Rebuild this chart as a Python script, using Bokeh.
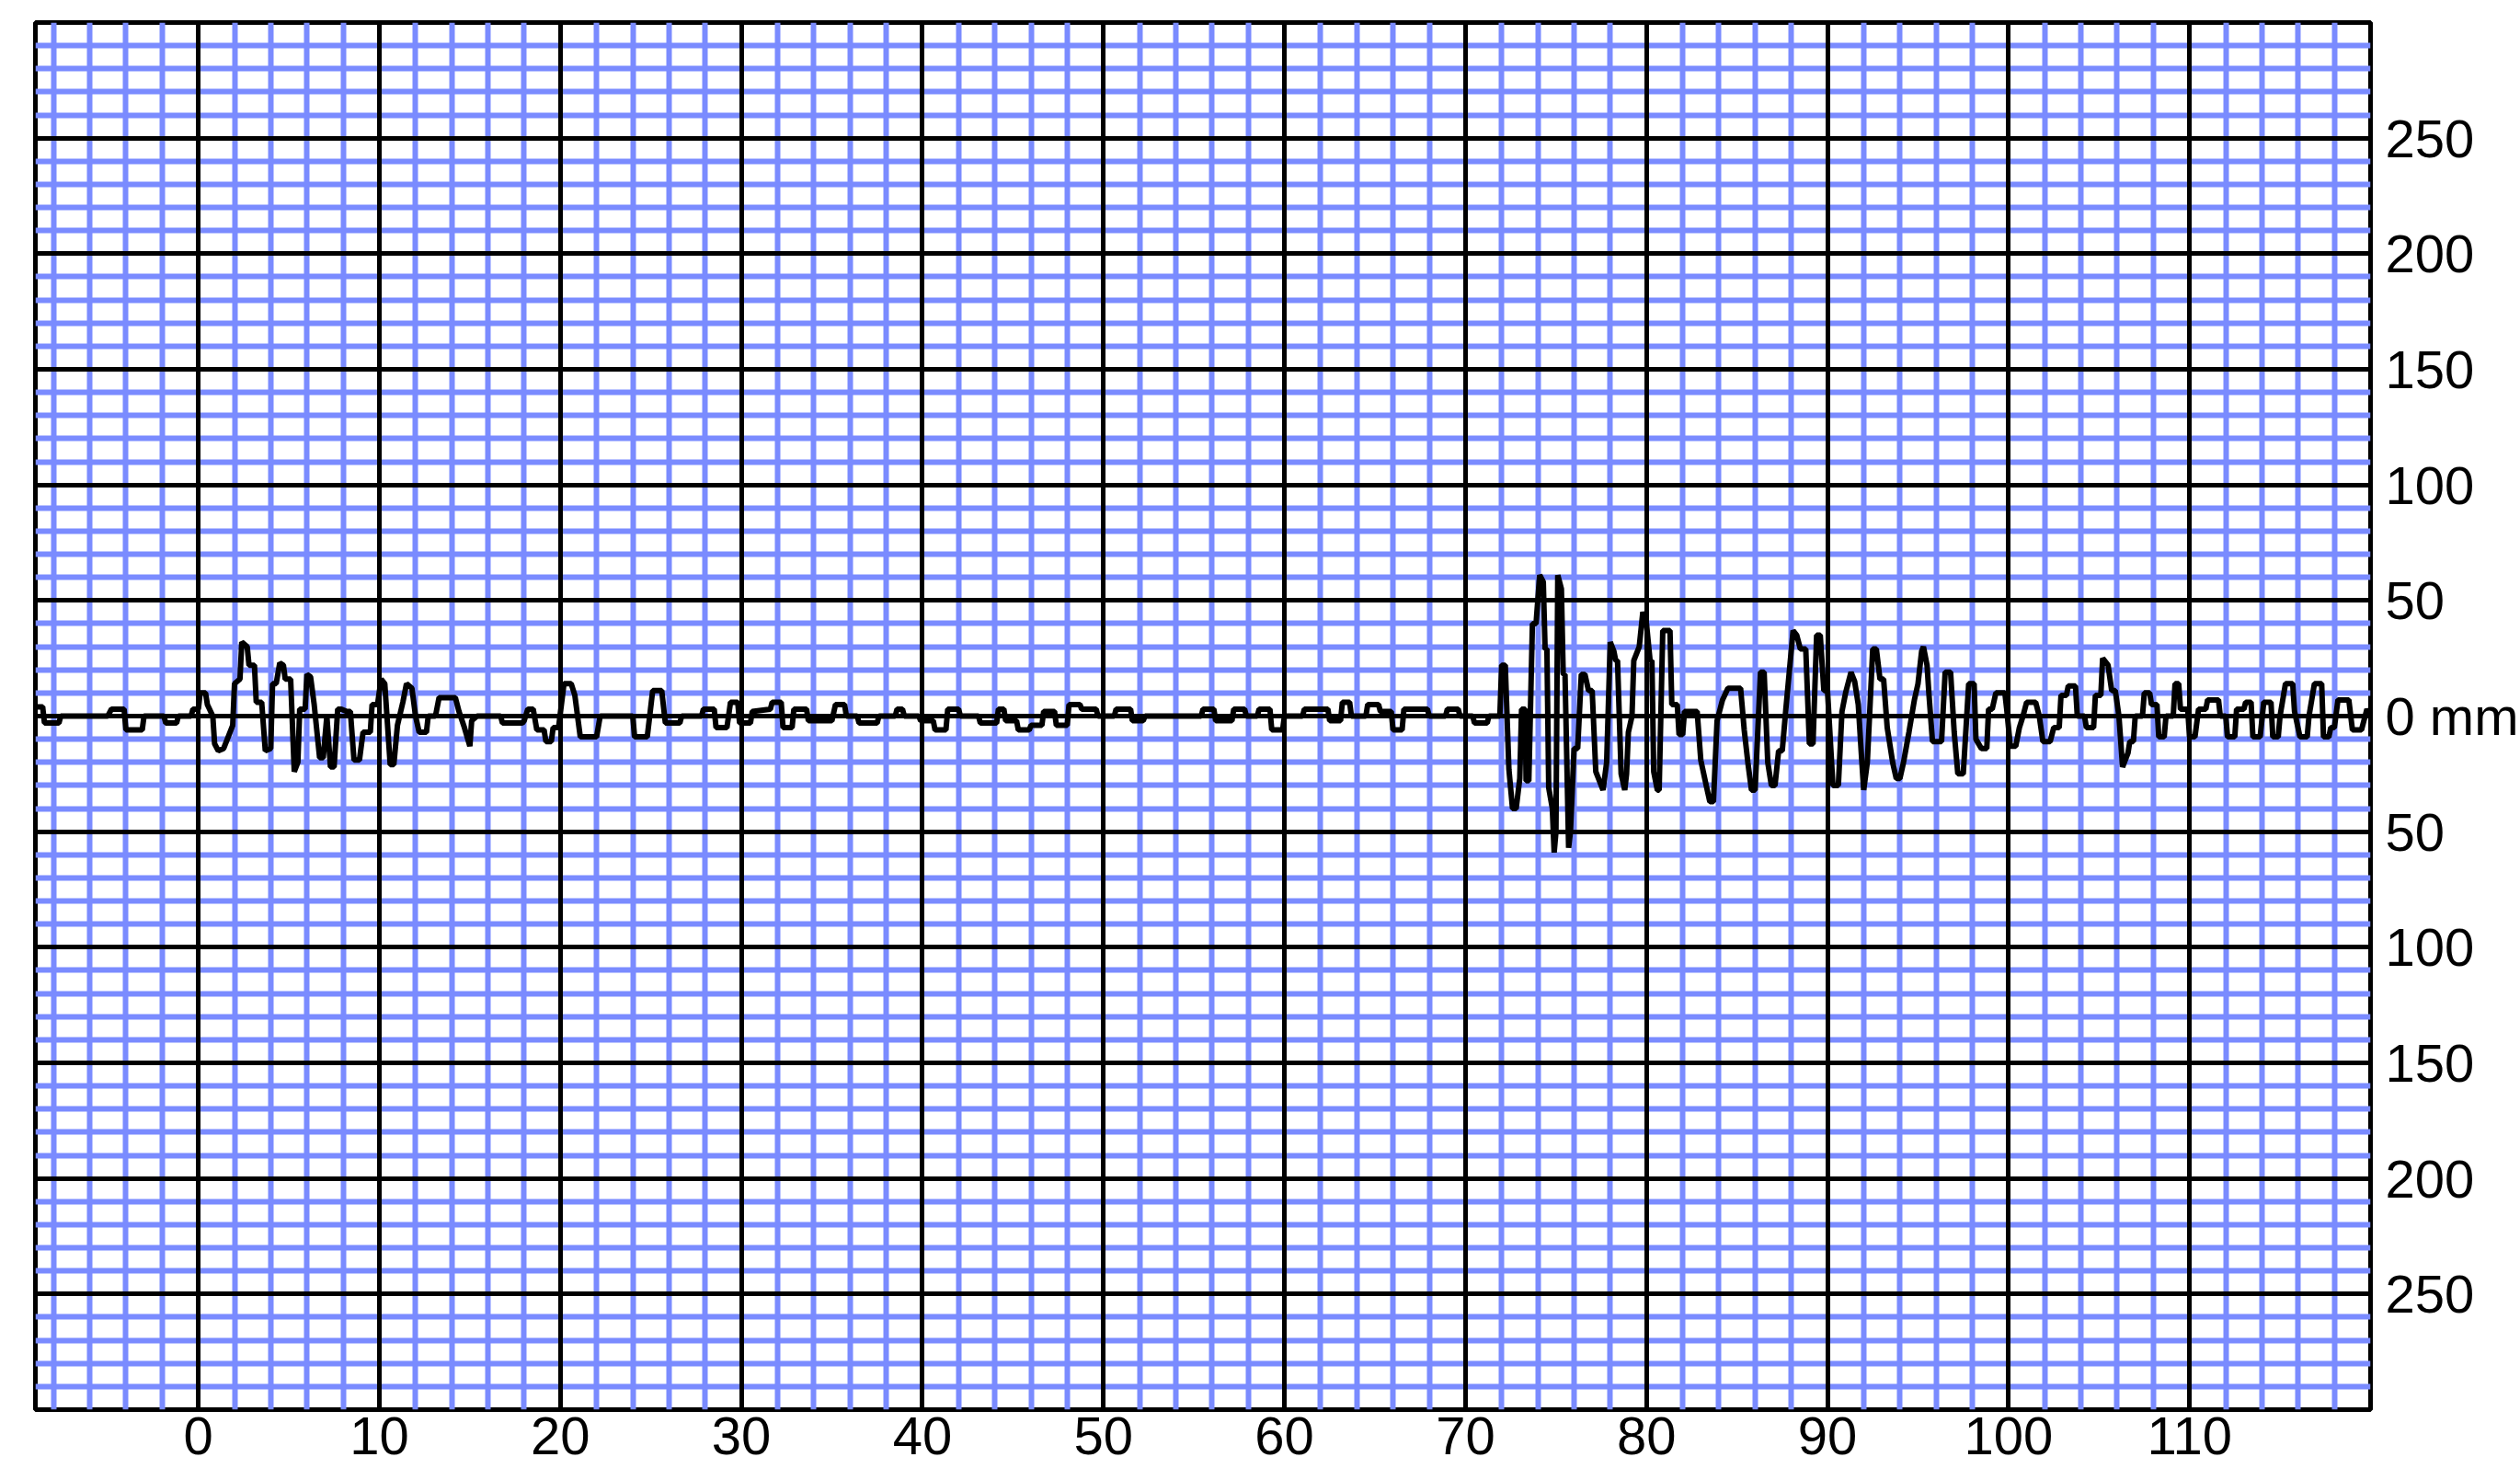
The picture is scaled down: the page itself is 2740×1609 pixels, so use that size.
from bokeh.plotting import figure
from bokeh.models import Range1d, FixedTicker, Grid
from bokeh.embed import file_html
from bokeh.resources import INLINE

# --- data (time in s, amplitude in mm) ---
time_s = [
    -9.0, -8.6, -8.5, -7.7, -7.6, -5.0, -4.8, -4.1, -4.0, -3.1, -3.0, -1.9, -1.8, -1.2, -1.1, -0.4, -0.3, 0.0,
    0.1, 0.4, 0.5, 0.8, 0.9, 1.1, 1.4, 1.6, 1.9, 2.0, 2.3, 2.4, 2.7, 2.8, 3.1, 3.2, 3.5, 3.7, 4.0, 4.1, 4.3,
    4.5, 4.7, 4.8, 5.1, 5.3, 5.5, 5.6, 5.9, 6.0, 6.2, 6.4, 6.7, 6.9, 7.1, 7.3, 7.5, 7.7, 7.9, 8.2, 8.4, 8.6,
    8.9, 9.1, 9.5, 9.6, 9.9, 10.1, 10.3, 10.6, 10.8, 11.0, 11.3, 11.5, 11.8, 12.0, 12.2, 12.6, 12.7, 13.1,
    13.3, 14.2, 14.4, 14.7, 15.0, 15.1, 15.4, 16.7, 16.8, 17.9,
    18.0, 18.2, 18.5, 18.7, 19.1, 19.2, 19.5, 19.6, 19.9, 20.2, 20.6, 20.8, 21.1, 22.0, 22.2, 24.0, 24.1,
    24.8, 25.1, 25.6, 25.8, 26.6, 26.7, 27.8, 27.9, 28.5, 28.6, 29.2, 29.4, 29.8, 29.9, 30.5, 30.6, 31.6,
    31.7, 32.2, 32.3, 32.8, 32.9, 33.6, 33.7, 35.0, 35.2, 35.7, 35.8, 36.4, 36.5, 37.5, 37.6, 38.5, 38.6,
    38.9, 39.0, 39.8, 39.9, 40.6, 40.7, 41.3, 41.4, 42.0, 42.1, 43.1, 43.2, 44.1, 44.2, 44.5, 44.6, 45.2,
    45.3, 45.9, 46.0, 46.6, 46.7, 47.3, 47.4, 48.0, 48.1, 48.7, 48.8, 49.6, 49.7, 50.6, 50.7, 51.5, 51.6,
    52.2, 52.3, 55.4, 55.5, 56.1, 56.2, 57.1, 57.2, 57.8, 57.9, 58.5, 58.6, 59.2, 59.3, 59.9, 60.0, 61.0,
    61.1, 62.4, 62.5, 63.1, 63.2, 63.6, 63.7, 64.5, 64.6, 65.2, 65.3, 65.9, 66.0, 66.5, 66.6, 67.9, 68.0,
    68.9, 69.0, 69.6, 69.7, 70.4, 70.5, 71.2,
    71.3, 71.9, 72.0, 72.2, 72.4, 72.6, 72.8, 73.0, 73.1, 73.3, 73.35, 73.5, 73.7, 73.9, 74.1, 74.3, 74.4,
    74.5, 74.6, 74.8, 74.9, 75.0, 75.1, 75.3, 75.4, 75.5, 75.7, 75.8, 76.0, 76.2, 76.4, 76.6, 76.8, 77.0,
    77.2, 77.4, 77.6, 77.8, 78.0, 78.2, 78.3, 78.4, 78.6, 78.8, 78.9, 79.0, 79.2, 79.3, 79.6, 79.8, 80.0,
    80.2, 80.3, 80.4, 80.6, 80.7, 80.9, 81.3, 81.4, 81.7, 81.8, 82.0, 82.1, 82.8, 83.0, 83.3, 83.5, 83.7,
    83.9, 84.2, 84.5, 85.2, 85.4, 85.6, 85.8, 86.0, 86.3, 86.5, 86.7, 86.9, 87.1, 87.3, 87.5, 87.7, 87.9,
    88.1, 88.3, 88.5, 88.8, 89.0, 89.2, 89.4, 89.6, 89.8, 90.0, 90.3, 90.6, 90.8, 91.0, 91.3, 91.5, 91.7,
    91.9, 92.0, 92.2, 92.5, 92.7, 92.9, 93.1, 93.3, 93.6, 93.8, 94.0, 94.2, 94.5, 94.8, 95.0, 95.2, 95.3,
    95.5, 95.6, 95.8, 96.3, 96.5, 96.8, 97.0, 97.2, 97.5, 97.8, 98.1, 98.2, 98.5, 98.8, 98.9, 99.1, 99.3,
    99.8, 99.9, 100.1, 100.4, 100.6, 100.8, 101.0, 101.5, 101.7, 101.9, 102.3, 102.5, 102.8, 102.9, 103.2,
    103.3, 103.7, 103.8, 104.2, 104.3, 104.7, 104.8, 105.1, 105.2, 105.5, 105.7, 105.9, 106.1, 106.3,
    106.6, 106.7, 106.9, 107.0, 107.4, 107.5, 107.8, 107.9, 108.2, 108.3, 108.6, 108.7, 109.1, 109.2,
    109.4, 109.5, 109.9, 110.0, 110.3, 110.5, 110.9, 111.0, 111.6, 111.7, 112.0, 112.1, 112.5, 112.6,
    113.0, 113.1, 113.4, 113.5, 113.9, 114.1, 114.5, 114.6, 114.9, 115.0, 115.3, 115.7, 115.8, 116.1,
    116.5, 116.6, 116.9, 117.3, 117.4, 117.7, 117.8, 118.0, 118.2, 118.8, 119.0, 119.5, 119.8, 120.0,
]
amplitude_mm = [
    4, 4, -3, -3, 0, 0, 3, 3, -6, -6, 0, 0, -3, -3, 0, 0, 3, 3,
    10, 10, 5, 0, -12, -15, -14, -10, -4, 14, 16, 32, 30, 22, 22, 6, 6, -15, -14, 14, 14,
    23, 22, 16, 16, -24, -20, 3, 3, 18, 17, 5, -18, -18, 0, -22, -22, 3, 3, 2, 2, -19,
    -19, -7, -7, 5, 5, 16, 14, -21, -21, -4, 6, 14, 12, 0, -7, -7, 0, 0,
    8, 8, 2, -5, -13, -2, 0, 0, -3, -3,
    -2, 3, 3, -6, -6, -11, -11, -5, -5, 14, 14, 9, -9, -9, 0, 0, -9,
    -9, 11, 11, -3, -3, 0, 0, 3, 3, -5, -5, 6, 6, -3, -3, 2, 3,
    6, 6, -5, -5, 3, 3, -2, -2, 5, 5, 0, 0, -3, -3, 0, 0, 3,
    3, 0, 0, -2, -2, -6, -6, 3, 3, 0, 0, -3, -3, 3, 3, -2, -2,
    -6, -6, -4, -4, 2, 2, -4, -4, 5, 5, 3, 3, 0, 0, 3, 3, -2,
    -2, 0, 0, 3, 3, -2, -2, 3, 3, 0, 0, 3, 3, -6, -6, 0, 0,
    3, 3, -2, -2, 6, 6, 0, 0, 5, 5, 2, 2, -6, -6, 3, 3, 0,
    0, 3, 3, 0, 0, -3, -3,
    0, 0, 22, 22, -23, -40, -40, -27, 3, 3, -28, -28, 40, 40, 61, 58, 29,
    29, -31, -40, -59, -50, 61, 55, 18, 18, -57, -50, -14, -14, 18, 18, 11, 11,
    -24, -28, -32, -20, 32, 28, 24, 24, -25, -32, -25, -7, 0, 24, 30, 45, 40,
    24, 24, -24, -32, -32, 37, 37, 5, 5, -8, -8, 2, 2, -19, -30, -37, -37,
    -2, 7, 12, 12, -6, -20, -32, -32, 19, 19, -20, -30, -30, -15, -15, 3, 20,
    37, 35, 29, 29, -12, -12, 35, 35, 11, 11, -30, -30, 2, 10, 19, 15, 5,
    -20, -32, -20, 29, 29, 16, 16, -5, -20, -27, -27, -20, -7, 7, 14, 28, 30,
    22, 10, -11, -11, 19, 19, -7, -25, -25, 14, 14, -10, -14, -14, 3, 3, 10,
    10, 3, -13, -13, -5, 0, 6, 6, 0, -11, -11, -5, -5, 9, 9,
    13, 13, 0, 0, -5, -5, 9, 9, 25, 22, 11, 11, 0, -22,
    -16, -11, -11, 0, 0, 10, 10, 5, 5, -9, -9, 0, 0, 14,
    14, 3, 3, -9, -9, 3, 3, 7, 7, 0, 0, -9, -9, 3,
    3, 6, 6, -9, -9, 6, 6, -9, -9, 0, 14, 14, 2, -9,
    -9, 0, 14, 14, -9, -9, -5, -5, 7, 7, -6, -6, 3, 0,
]

x_major_ticks = [0, 10, 20, 30, 40, 50, 60, 70, 80, 90, 100, 110]
y_major_ticks = [-250, -200, -150, -100, -50, 0, 50, 100, 150, 200, 250]
y_tick_labels = ["250", "200", "150", "100", "50", "0 mm", "50", "100", "150", "200", "250"]

x_minor_ticks = [v for v in range(-8, 121, 2) if v % 10 != 0]
y_minor_ticks = [v for v in range(-290, 300, 10) if v % 50 != 0]

BLUE = "#7a8bff"
FONT = "Liberation Sans"

p = figure(
    frame_width=2539, frame_height=1508,
    x_range=Range1d(-9, 120), y_range=Range1d(-300, 300),
    y_axis_location="right",
    output_backend="svg", toolbar_location=None,
    min_border_left=38, min_border_top=24, min_border_right=0, min_border_bottom=70,
)
p.background_fill_color = "white"
p.border_fill_color = "white"
p.outline_line_color = "black"
p.outline_line_width = 5

p.xgrid.grid_line_color = None
p.ygrid.grid_line_color = None

# minor (blue) grid first, then major (black) grid on top
p.add_layout(Grid(dimension=0, ticker=FixedTicker(ticks=x_minor_ticks),
                  grid_line_color=BLUE, grid_line_width=6))
p.add_layout(Grid(dimension=1, ticker=FixedTicker(ticks=y_minor_ticks),
                  grid_line_color=BLUE, grid_line_width=6))
p.add_layout(Grid(dimension=0, ticker=FixedTicker(ticks=x_major_ticks),
                  grid_line_color="black", grid_line_width=5))
p.add_layout(Grid(dimension=1, ticker=FixedTicker(ticks=y_major_ticks),
                  grid_line_color="black", grid_line_width=5))

p.line(time_s, amplitude_mm, line_color="black", line_width=6)

for ax in (p.xaxis, p.yaxis):
    ax.axis_line_color = None
    ax.major_tick_line_color = None
    ax.minor_tick_line_color = None
    ax.major_label_text_font = FONT
    ax.major_label_text_font_size = "58px"
    ax.major_label_text_color = "black"

p.xaxis.ticker = FixedTicker(ticks=x_major_ticks)
p.xaxis.major_label_standoff = 2
p.yaxis.ticker = FixedTicker(ticks=y_major_ticks)
p.yaxis.major_label_overrides = {t: lab for t, lab in zip(y_major_ticks, y_tick_labels)}
p.yaxis.major_label_standoff = 10

open("out.html", "w").write(file_html(p, INLINE))
